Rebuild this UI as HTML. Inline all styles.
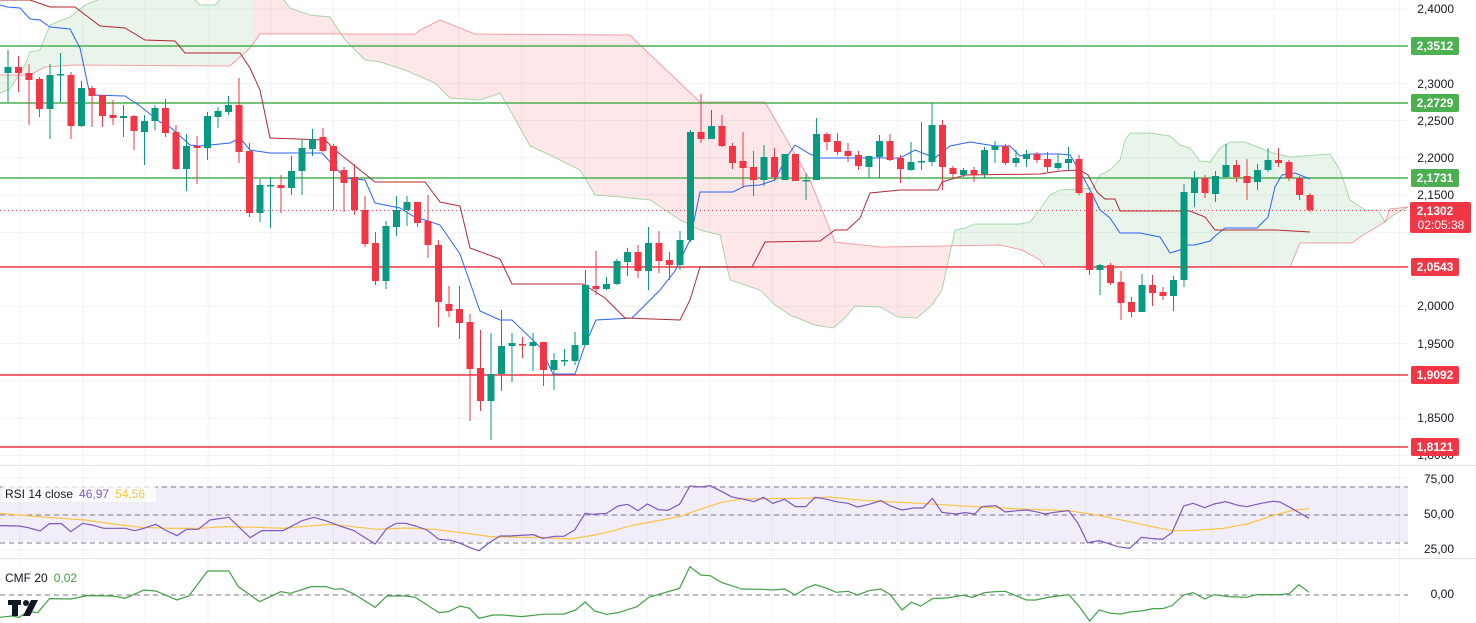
<!DOCTYPE html>
<html><head><meta charset="utf-8"><style>
body{margin:0;background:#fff;}
svg{display:block;font-family:"Liberation Sans",sans-serif;}
</style></head><body>
<svg id="s" width="1476" height="623" viewBox="0 0 1476 623" xmlns="http://www.w3.org/2000/svg">
<defs>
<clipPath id="cg"><rect x="0" y="0" width="253" height="465"/><rect x="950" y="0" width="435" height="465"/></clipPath>
<clipPath id="cr"><rect x="253" y="0" width="697" height="465"/><rect x="1385" y="0" width="23" height="465"/></clipPath>
<clipPath id="main"><rect x="0" y="0" width="1408" height="464"/></clipPath>
</defs>
<rect width="1476" height="623" fill="#fff"/>
<g stroke="#f0f3fa" stroke-width="1" id="grid"></g>
<g clip-path="url(#main)">
<g id="cloud"></g>
<g fill="none" stroke-width="1.6">
<line x1="0" y1="46" x2="1408" y2="46" stroke="#4caf50"/>
<line x1="0" y1="103" x2="1408" y2="103" stroke="#4caf50"/>
<line x1="0" y1="178" x2="1408" y2="178" stroke="#4caf50"/>
<line x1="0" y1="267" x2="1408" y2="267" stroke="#f23645"/>
<line x1="0" y1="375" x2="1408" y2="375" stroke="#f23645"/>
<line x1="0" y1="447" x2="1408" y2="447" stroke="#f23645"/>
</g>
<line x1="0" y1="210.5" x2="1408" y2="210.5" stroke="#f23645" stroke-width="1" stroke-dasharray="1,3"/>
<polyline fill="none" stroke="#2962ff" stroke-width="1" points="0,5 7,7 20,8 30,19 40,20 50,27 70,29 80,48 90,95 125,96 140,106 160,122 170,127 190,145 200,146 230,143 240,138 250,150 270,153 322,153 333,165 345,178 365,180 375,203 400,208 413,216 440,225 460,254 480,311 500,320 512,320 540,347 553,374 575,374 585,345 596,320 632,318 660,290 675,271 690,240 700,192 733,192 745,186 760,185 775,180 785,160 795,145 810,154 820,158 900,158 915,150 935,158 950,146 970,142 995,146 1010,146 1020,156 1030,154 1060,154 1070,155 1082,175 1090,190 1100,210 1110,218 1120,233 1140,233 1160,237 1170,253 1180,250 1185,245 1195,245 1210,241 1215,236 1225,228 1257,228 1268,217 1275,187 1282,175 1295,173 1310,179"/>
<polyline fill="none" stroke="#b22833" stroke-width="1" points="0,0 30,0 50,7 75,7 100,26 125,28 145,40 175,41 185,53 240,53 250,68 260,90 270,138 325,140 335,150 375,182 425,182 440,202 460,206 470,248 500,259 512,284 583,284 605,298 625,318 680,320 690,300 700,267 752,267 765,242 820,241 835,230 847,230 860,218 870,193 900,190 938,190 942,182 965,175 1040,174 1060,171 1080,170 1088,175 1097,192 1105,199 1115,199 1120,211 1190,211 1205,217 1215,230 1276,230 1310,232"/>
<g id="candles"></g>
</g>
<!-- RSI -->
<line x1="0" y1="465.5" x2="1476" y2="465.5" stroke="#e0e3eb"/>
<rect x="0" y="486" width="1408" height="56" fill="#7e57c2" fill-opacity="0.1"/>
<g stroke="#787b86" stroke-dasharray="5,4" stroke-width="1">
<line x1="0" y1="487" x2="1408" y2="487"/><line x1="0" y1="515" x2="1408" y2="515"/><line x1="0" y1="543" x2="1408" y2="543"/>
<line x1="0" y1="595" x2="1408" y2="595"/></g>
<line x1="0" y1="558.5" x2="1476" y2="558.5" stroke="#e0e3eb"/>
<g transform="translate(0,460) scale(0.4719,0.3333)" fill="none" stroke-width="1.2">
<polyline vector-effect="non-scaling-stroke" stroke="#f7c548" points="0,160 40,165 100,172 180,180 240,192 300,202 360,205 420,205 480,200 540,202 600,205 640,200 700,193 760,202 800,208 860,204 920,208 960,215 1000,222 1040,230 1100,232 1150,233 1210,237 1260,225 1300,212 1340,196 1390,183 1440,170 1490,145 1530,127 1568,118"/>
<polyline vector-effect="non-scaling-stroke" stroke="#7e57c2" points="0,197 40,198 60,203 85,213 105,191 130,191 150,215 175,190 195,195 220,205 265,205 285,212 305,205 330,193 350,210 375,227 395,208 420,208 445,180 485,172 530,233 555,212 600,212 640,182 665,172 690,182 720,198 750,212 795,252 820,205 840,190 860,190 880,198 905,210 930,238 955,241 975,250 1000,265 1015,272 1040,245 1060,228 1080,228 1130,224 1150,235 1175,229 1195,229 1218,210 1240,160 1255,163 1285,160 1310,138 1330,133 1352,152 1372,132 1395,149 1415,151 1440,133 1462,78 1485,81 1505,77 1530,95 1550,110 1568,116"/>
<polyline vector-effect="non-scaling-stroke" stroke="#43a047" points="0,472 25,468 40,472 60,455 80,458 105,416 150,417 185,407 240,408 265,415 305,390 330,393 375,420 400,408 440,333 485,333 505,380 550,425 595,395 615,400 660,380 690,380 710,388 725,386 750,402 795,442 820,408 860,408 880,412 930,458 950,455 975,438 995,445 1015,475 1045,465 1065,465 1105,470 1150,463 1195,462 1220,450 1240,426 1260,453 1285,463 1310,458 1350,440 1375,412 1440,385 1462,320 1485,345 1505,347 1530,368 1568,385"/>
</g>
<g transform="translate(740,460) scale(0.4695,0.3333)" fill="none">
<polyline vector-effect="non-scaling-stroke" stroke-width="1.2" stroke="#f7c548" points="0,117 60,116 160,114 190,111 260,121 330,126 420,133 500,140 600,147 700,152 760,165 830,185 880,200 920,212 960,212 1030,205 1080,192 1140,165 1180,150 1212,146"/>
<polyline vector-effect="non-scaling-stroke" stroke-width="1.2" stroke="#7e57c2" points="0,115 30,125 50,112 70,130 95,118 118,140 140,140 160,112 185,118 205,125 230,130 250,141 275,133 300,122 320,138 345,150 370,144 390,144 410,115 430,157 460,162 480,158 500,162 515,140 545,137 565,156 590,152 610,150 630,155 650,162 670,157 700,152 720,190 740,248 765,242 805,260 830,265 855,232 880,236 900,238 920,218 945,138 965,130 990,143 1010,132 1035,125 1060,136 1080,140 1110,130 1135,124 1150,126 1175,145 1212,175"/>
<polyline vector-effect="non-scaling-stroke" stroke-width="1.2" stroke="#43a047" points="0,387 50,388 70,390 95,387 118,405 140,385 160,374 185,385 205,397 230,394 250,405 275,392 300,387 320,404 345,450 365,427 385,438 410,416 440,414 475,406 495,412 520,398 545,395 565,394 610,420 630,420 660,411 700,404 720,435 745,483 765,450 790,460 810,462 835,455 855,453 880,446 900,446 920,437 945,405 965,398 990,417 1010,404 1040,410 1080,412 1100,404 1150,404 1170,401 1190,374 1212,397"/>
</g>
<rect x="2" y="484" width="154" height="18" fill="#fff" fill-opacity="0.7"/>
<text x="5" y="498" font-size="12"><tspan fill="#131722">RSI 14 close</tspan><tspan fill="#7e57c2" dx="6">46,97</tspan><tspan fill="#f7c548" dx="6">54,56</tspan></text>
<text x="5" y="582" font-size="12"><tspan fill="#131722">CMF 20</tspan><tspan fill="#43a047" dx="6">0,02</tspan></text>
<g fill="#131722"><rect x="8" y="600" width="13" height="5"/><rect x="12" y="600" width="6" height="16"/><circle cx="26" cy="603" r="3"/><polygon points="31,600 38,600 30,616 23,616"/></g>
<!-- axis -->
<g font-size="12" fill="#131722" text-anchor="end" id="axis">
<text x="1454" y="13">2,4000</text><text x="1454" y="88">2,3000</text><text x="1454" y="125">2,2500</text>
<text x="1454" y="162">2,2000</text><text x="1454" y="199">2,1500</text><text x="1454" y="310">2,0000</text>
<text x="1454" y="348">1,9500</text><text x="1454" y="422">1,8500</text><text x="1454" y="459">1,8000</text>
<text x="1454" y="483">75,00</text><text x="1454" y="518">50,00</text><text x="1454" y="553">25,00</text><text x="1454" y="598">0,00</text>
</g>
<g font-size="12" font-weight="bold" fill="#fff" text-anchor="middle">
<rect x="1411" y="37" width="48" height="18" rx="2" fill="#4caf50"/><text x="1435" y="50">2,3512</text>
<rect x="1411" y="94" width="48" height="18" rx="2" fill="#4caf50"/><text x="1435" y="107">2,2729</text>
<rect x="1411" y="169" width="48" height="18" rx="2" fill="#4caf50"/><text x="1435" y="182">2,1731</text>
<rect x="1410" y="202" width="61" height="31" rx="2" fill="#f23645"/><text x="1435" y="215">2,1302</text><text x="1441" y="229" font-weight="normal">02:05:38</text>
<rect x="1411" y="258" width="48" height="18" rx="2" fill="#f23645"/><text x="1435" y="271">2,0543</text>
<rect x="1411" y="366" width="48" height="18" rx="2" fill="#f23645"/><text x="1435" y="379">1,9092</text>
<rect x="1411" y="438" width="48" height="18" rx="2" fill="#f23645"/><text x="1435" y="451">1,8121</text>
</g>
</svg>
<script>
var NS="http://www.w3.org/2000/svg";
function el(p,n,a){var e=document.createElementNS(NS,n);for(var k in a)e.setAttribute(k,a[k]);p.appendChild(e);return e;}
var g=document.getElementById('grid');
for(var x=20;x<1408;x+=62.7)el(g,'line',{x1:x,y1:0,x2:x,y2:623});
for(var y=9;y<465;y+=37.2)el(g,'line',{x1:0,y1:y,x2:1408,y2:y});
[478,515,550,595].forEach(function(y){el(g,'line',{x1:0,y1:y,x2:1408,y2:y});});
var A="0,93 10,89 25,65 30,52 40,50 50,25 70,17 85,5 110,-5 190,-5 200,5 215,5 225,-5 280,-5 290,8 310,15 330,17 345,40 365,60 380,62 405,70 435,83 450,98 480,100 495,95 500,93 510,110 530,146 550,155 580,170 595,195 620,197 650,200 665,210 680,220 700,230 720,235 730,280 760,290 775,305 790,315 815,325 833,328 845,318 855,306 880,307 898,317 917,318 932,305 942,290 955,230 965,228 975,224 1020,224 1030,222 1040,209 1050,195 1060,190 1093,188 1100,175 1110,170 1120,160 1125,140 1130,133 1150,133 1170,136 1180,145 1190,148 1200,161 1210,162 1220,148 1230,142 1245,142 1260,148 1273,153 1290,157 1330,154 1340,170 1350,200 1365,210 1378,210 1385,222 1395,214 1408,207";
var B="0,75 30,75 45,67 75,65 230,66 250,48 260,34 415,34 420,30 440,20 475,34 630,35 640,45 700,102 765,102 810,180 835,242 880,247 1000,245 1022,250 1040,260 1045,267 1290,267 1300,243 1352,243 1360,237 1385,222 1390,209 1408,207";
var bp=B.split(' ').reverse().join(' ');
var c=document.getElementById('cloud');
el(c,'polygon',{points:A+' '+bp,fill:'#4caf50','fill-opacity':'0.12','clip-path':'url(#cg)'});
el(c,'polygon',{points:A+' '+bp,fill:'#f23645','fill-opacity':'0.12','clip-path':'url(#cr)'});
el(c,'polyline',{points:A,fill:'none',stroke:'#4caf50','stroke-opacity':'0.45'});
el(c,'polyline',{points:B,fill:'none',stroke:'#f23645','stroke-opacity':'0.45'});
var D=[
"g67,73,50,102","r67,73,56,92","r73,80,64,125","r79,109,77,117","g75,109,64,139","d74,74,53,102","r75,126,72,139","g88,126,81,127","r88,96,86,127","r95,116,95,127",
"r115,118,100,125","g116,118,105,137","r116,131,115,150","g121,132,115,165","g108,121,105,130","r108,133,99,137","r132,169,125,170","g146,169,134,191","r146,148,136,184","g116,148,112,160",
"g111,117,107,128","g105,112,96,115","r105,152,78,163","r151,213,143,217","g185,213,179,222","d185,186,177,228","r185,188,175,213","g171,188,156,195","g148,171,139,195","g139,149,129,156",
"r137,151,128,152","r146,171,144,210","r170,183,167,212","r177,210,164,215","r210,244,196,247","r243,281,232,285","g226,281,221,289","g210,227,196,236","g202,210,196,226","r202,223,202,227",
"r221,245,195,258","r245,302,240,327","r304,311,286,317","r309,323,286,339","r322,369,314,421","r368,401,330,411","g374,401,333,440","g346,374,310,391","g343,346,333,382","r344,345,337,358",
"g342,346,333,371","r342,370,342,386","g360,370,353,390","d360,361,349,366","g345,361,332,365","g285,345,270,345","r286,289,251,295","g284,289,277,290","g261,284,259,285","g252,262,248,276",
"r252,271,245,278","g243,271,227,290","r243,261,231,273","r260,265,252,280","g240,265,231,270","g132,240,130,242","r132,139,94,143","g126,139,110,139","r126,146,115,147","r146,163,143,169",
"r161,168,132,188","r167,180,151,196","g157,180,145,186","r157,177,148,180","g154,180,154,180","r154,181,154,181","d180,180,173,200","g134,180,118,180","r134,142,132,150","r141,152,133,155",
"r151,156,143,162","r155,166,151,170","g156,167,156,178","g141,157,135,178","r141,160,134,161","r158,169,155,183","g162,170,142,171","d161,161,122,170","g125,162,103,166","r125,167,120,190",
"r168,174,166,178","g170,175,168,177","r170,175,167,182","g150,174,147,178","g146,150,141,163","r146,163,144,165","g158,163,150,167","g154,159,150,167","r154,160,152,163","r159,167,152,172",
"g163,168,154,170","g159,163,147,170","r159,193,155,195","r193,270,192,275","g265,270,264,295","r265,283,263,285","r282,303,271,320","r302,312,297,317","g285,312,274,312","r285,293,275,306",
"r292,296,287,300","g280,296,276,311","g192,280,184,287","g178,193,171,207","r178,193,175,198","g176,194,171,202","g165,177,144,178","r165,177,160,182","r176,183,159,200","g170,182,164,190",
"g160,170,148,172","r160,163,148,167","r162,178,160,181","r178,195,176,200","r195,210,193,212"];
var cg=document.getElementById('candles');
D.forEach(function(s,i){var t=s[0],v=s.slice(1).split(',').map(Number);var x=8+10.5*i;
var col=t=='g'?'#089981':(t=='r'?'#f23645':'#089981');
el(cg,'line',{x1:x,y1:v[2],x2:x,y2:v[3],stroke:col,'stroke-width':1});
var h=Math.max(v[1]-v[0],1.5);el(cg,'rect',{x:x-3.5,y:v[0],width:7,height:h,fill:col});});
</script>
</body></html>
